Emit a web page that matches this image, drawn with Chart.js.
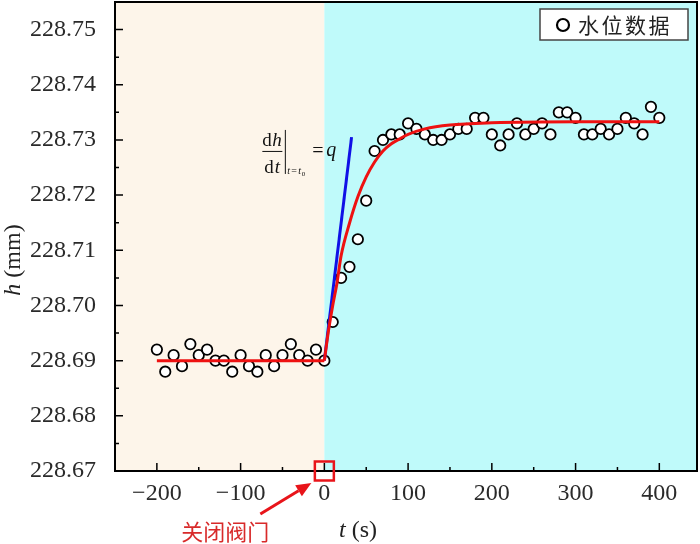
<!DOCTYPE html>
<html><head><meta charset="utf-8">
<script src="https://cdn.jsdelivr.net/npm/chart.js@4.4.0/dist/chart.umd.min.js"></script>
<style>html,body{margin:0;padding:0;background:#fff}#wrap{width:700px;height:544px;position:relative}</style>
</head><body><div id="wrap"><canvas id="c"></canvas></div>
<script>
// ---- data ----
const timesBefore = [-200,-190,-180,-170,-160,-150,-140,-130,-120,-110,-100,-90,-80,-70,-60,-50,-40,-30,-20,-10,0];
const levelsBefore = [228.692,228.688,228.691,228.689,228.693,228.691,228.692,228.690,228.690,228.688,228.691,228.689,228.688,228.691,228.689,228.691,228.693,228.691,228.690,228.692,228.690];
const timesAfter = [10,20,30,40,50,60,70,80,90,100,110,120,130,140,150,160,170,180,190,200,210,220,230,240,250,260,270,280,290,300,310,320,330,340,350,360,370,380,390,400];
const levelsAfter = [228.697,228.705,228.707,228.712,228.719,228.728,228.730,228.731,228.731,228.733,228.732,228.731,228.730,228.730,228.731,228.732,228.732,228.734,228.734,228.731,228.729,228.731,228.733,228.731,228.732,228.733,228.731,228.735,228.735,228.734,228.731,228.731,228.732,228.731,228.732,228.734,228.733,228.731,228.736,228.734];
const baselineT = [-200, 0];
const baselineH = [228.690, 228.690];
const fitT = [0,5,10,15,20,30,40,50,60,70,80,90,100,120,150,200,300,400];
const fitH = [228.690,228.6955,228.700,228.704,228.709,228.7149,228.7197,228.7233,228.726,228.728,228.7293,228.7302,228.731,228.732,228.7327,228.7331,228.7333,228.7333];
const tangentT = [0, 32.5];
const tangentH = [228.690, 228.7305];
const xTicks = [-200,-100,0,100,200,300,400];
const yTicks = [228.67,228.68,228.69,228.70,228.71,228.72,228.73,228.74,228.75];
const legendLabel = '水位数据';
const valveLabel = '关闭阀门';
const xTitleVar = 't', xTitleUnit = ' (s)';
const yTitleVar = 'h', yTitleUnit = ' (mm)';

const pts = (ts, hs) => ts.map((t, i) => ({x: t, y: hs[i]}));
const SERIF = '"Liberation Serif", "Times New Roman", serif';
const CJK = '"Noto Sans CJK SC", sans-serif';

const deco = {
  id: 'deco',
  beforeDatasetsDraw(chart) {
    const {ctx, chartArea: a, scales: {x}} = chart;
    const x0 = x.getPixelForValue(0);
    ctx.save();
    ctx.fillStyle = '#FDF5EA';
    ctx.fillRect(a.left, a.top, x0 - a.left, a.bottom - a.top);
    ctx.fillStyle = '#BFFAFA';
    ctx.fillRect(x0, a.top, a.right - x0, a.bottom - a.top);
    ctx.restore();
  },
  afterDraw(chart) {
    const {ctx, chartArea: a, scales: {x, y}} = chart;
    ctx.save();
    // ticks (inward)
    ctx.strokeStyle = '#000'; ctx.lineWidth = 1.5;
    ctx.beginPath();
    for (let v = -200; v <= 400; v += 50) {
      const px = x.getPixelForValue(v);
      const len = (v % 100 === 0) ? 8 : 4;
      ctx.moveTo(px, a.bottom); ctx.lineTo(px, a.bottom - len);
    }
    for (let k = 0; k <= 16; k++) {
      const v = 228.67 + k * 0.005;
      const py = y.getPixelForValue(v);
      const len = (k % 2 === 0) ? 8 : 4;
      ctx.moveTo(a.left, py); ctx.lineTo(a.left + len, py);
    }
    ctx.stroke();
    // frame
    ctx.lineWidth = 2;
    ctx.strokeRect(a.left, a.top, a.right - a.left, a.bottom - a.top);

    // axis titles
    ctx.fillStyle = '#222';
    ctx.textBaseline = 'alphabetic';
    ctx.font = 'italic 24px ' + SERIF;
    const xw1 = ctx.measureText(xTitleVar).width;
    ctx.font = '24px ' + SERIF;
    const xw2 = ctx.measureText(xTitleUnit).width;
    let tx = 358 - (xw1 + xw2) / 2;
    ctx.font = 'italic 24px ' + SERIF; ctx.fillText(xTitleVar, tx, 537);
    ctx.font = '24px ' + SERIF; ctx.fillText(xTitleUnit, tx + xw1, 537);
    ctx.save();
    ctx.translate(20, 260); ctx.rotate(-Math.PI / 2);
    ctx.font = 'italic 24px ' + SERIF;
    const yw1 = ctx.measureText(yTitleVar).width;
    ctx.font = '24px ' + SERIF;
    const yw2 = ctx.measureText(yTitleUnit).width;
    let ty = -(yw1 + yw2) / 2;
    ctx.font = 'italic 24px ' + SERIF; ctx.fillText(yTitleVar, ty, 0);
    ctx.font = '24px ' + SERIF; ctx.fillText(yTitleUnit, ty + yw1, 0);
    ctx.restore();

    // derivative annotation
    const bx = x.getPixelForValue(0), by = y.getPixelForValue(228.73);
    ctx.fillStyle = '#111';
    ctx.font = '19px ' + SERIF;
    ctx.fillText('d', bx - 62, by + 6);
    const dw = ctx.measureText('d').width;
    ctx.font = 'italic 19px ' + SERIF;
    ctx.fillText('h', bx - 62 + dw + 0.5, by + 6);
    ctx.font = '19px ' + SERIF;
    ctx.fillText('d', bx - 60, by + 33);
    ctx.font = 'italic 19px ' + SERIF;
    ctx.fillText('t', bx - 60 + dw + 1, by + 33);
    ctx.strokeStyle = '#111'; ctx.lineWidth = 1;
    ctx.beginPath();
    ctx.moveTo(bx - 62, by + 11.5); ctx.lineTo(bx - 42, by + 11.5);
    ctx.moveTo(bx - 39, by - 10); ctx.lineTo(bx - 39, by + 34);
    ctx.stroke();
    ctx.font = 'italic 10px ' + SERIF;
    ctx.fillText('t', bx - 37, by + 34);
    ctx.font = '10px ' + SERIF;
    ctx.fillText('=', bx - 33, by + 34);
    ctx.font = 'italic 10px ' + SERIF;
    ctx.fillText('t', bx - 26, by + 34);
    ctx.font = '7px ' + SERIF;
    ctx.fillText('0', bx - 22.5, by + 36);
    ctx.font = '20px ' + SERIF;
    ctx.fillText('=', bx - 12, by + 17);
    ctx.font = 'italic 20px ' + SERIF;
    ctx.fillText('q', bx + 2, by + 16);

    // valve marker
    const yb = y.getPixelForValue(228.67);
    ctx.strokeStyle = '#E8141A'; ctx.lineWidth = 2.5;
    ctx.strokeRect(bx - 9.5, yb - 9.5, 19, 19);
    const tx0 = bx - 64, ty0 = yb + 43, tx1 = bx - 13, ty1 = yb + 12;
    const ang = Math.atan2(ty1 - ty0, tx1 - tx0);
    const hl = 15, hw = 6.5;
    const bxh = tx1 - hl * Math.cos(ang), byh = ty1 - hl * Math.sin(ang);
    ctx.lineWidth = 3;
    ctx.beginPath(); ctx.moveTo(tx0, ty0); ctx.lineTo(bxh, byh); ctx.stroke();
    ctx.fillStyle = '#E8141A';
    ctx.beginPath();
    ctx.moveTo(tx1, ty1);
    ctx.lineTo(bxh + hw * Math.sin(ang), byh - hw * Math.cos(ang));
    ctx.lineTo(bxh - hw * Math.sin(ang), byh + hw * Math.cos(ang));
    ctx.closePath(); ctx.fill();
    ctx.fillStyle = '#D82A2A';
    ctx.font = '22px ' + CJK;
    ctx.textAlign = 'center';
    ctx.fillText(valveLabel, bx - 99, yb + 69);
    ctx.textAlign = 'left';

    // legend
    const lx = a.right - 157, ly = a.top + 7, lw = 148, lh = 31;
    ctx.fillStyle = '#fff';
    ctx.fillRect(lx, ly, lw, lh);
    ctx.strokeStyle = '#444'; ctx.lineWidth = 1.5;
    ctx.strokeRect(lx, ly, lw, lh);
    ctx.beginPath();
    ctx.arc(lx + 23, ly + 16, 6, 0, Math.PI * 2);
    ctx.fillStyle = '#fff'; ctx.fill();
    ctx.strokeStyle = '#000'; ctx.lineWidth = 2.2; ctx.stroke();
    ctx.fillStyle = '#222';
    ctx.font = '21px ' + CJK;
    ctx.textBaseline = 'middle';
    Array.from(legendLabel).forEach((ch, i) => ctx.fillText(ch, lx + 38 + i * 23.5, ly + 16));
    ctx.restore();
  }
};

new Chart(document.getElementById('c'), {
  type: 'scatter',
  data: {
    datasets: [
      {label: 'baseline', data: pts(baselineT, baselineH), showLine: true, borderColor: '#EE1111', borderWidth: 3, pointRadius: 0, order: 0},
      {label: 'fit', data: pts(fitT, fitH), showLine: true, cubicInterpolationMode: 'monotone', borderColor: '#EE1111', borderWidth: 3, pointRadius: 0, order: 0},
      {label: 'tangent', data: pts(tangentT, tangentH), showLine: true, borderColor: '#1010E6', borderWidth: 3, pointRadius: 0, order: 0},
      {label: legendLabel, data: pts(timesBefore, levelsBefore).concat(pts(timesAfter, levelsAfter)), showLine: false,
       pointRadius: 5.2, pointBackgroundColor: '#fff', pointBorderColor: '#000', pointBorderWidth: 1.8, order: 1}
    ]
  },
  options: {
    responsive: true, maintainAspectRatio: false, animation: false,
    layout: {autoPadding: false, padding: {top: 2, right: 3, left: 0, bottom: 0}},
    plugins: {legend: {display: false}, tooltip: {enabled: false}},
    scales: {
      x: {
        type: 'linear', min: -250, max: 445,
        grid: {display: false}, border: {display: false},
        afterBuildTicks: s => { s.ticks = xTicks.map(v => ({value: v})); },
        afterFit: s => { s.height = 73; s.paddingLeft = 0; s.paddingRight = 0; s.paddingTop = 0; s.paddingBottom = 0; },
        ticks: {padding: 0, color: '#2a2a2a', maxRotation: 0, autoSkip: false,
          font: {family: SERIF, size: 24},
          callback: v => String(v).replace('-', '\u2212')}
      },
      y: {
        type: 'linear', min: 228.67, max: 228.755,
        grid: {display: false}, border: {display: false},
        afterBuildTicks: s => { s.ticks = yTicks.map(v => ({value: v})); },
        afterFit: s => { s.width = 115; s.paddingLeft = 0; s.paddingRight = 0; s.paddingTop = 0; s.paddingBottom = 0; },
        ticks: {padding: 11, color: '#2a2a2a', autoSkip: false,
          font: {family: SERIF, size: 24},
          callback: v => Number(v).toFixed(2)}
      }
    }
  },
  plugins: [deco]
});
</script>
</body></html>
